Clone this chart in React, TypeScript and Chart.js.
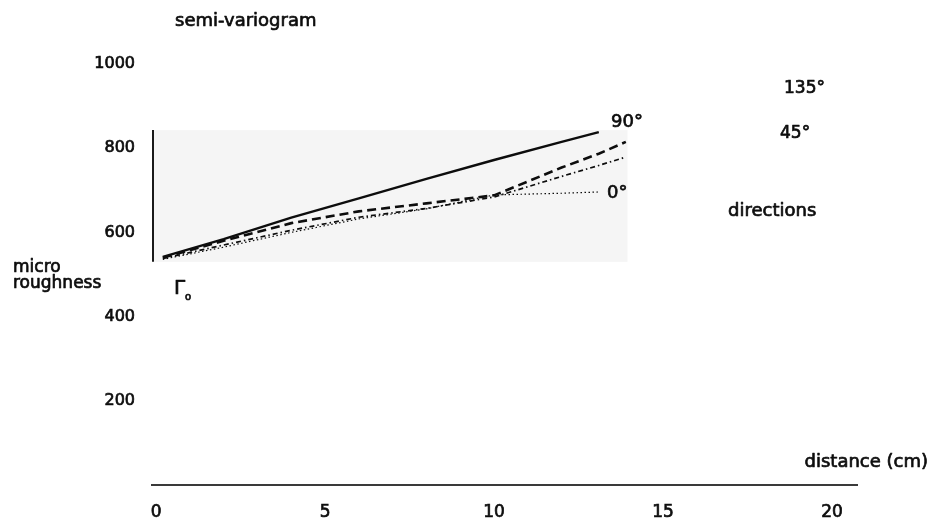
import React, { useEffect, useRef } from "react";
import { Chart, registerables } from "chart.js";

Chart.register(...registerables);

// distance (cm) sample positions shared by all directions
const distances = [0.2, 2, 4, 6, 8, 10, 12, 13.1, 13.9];
// semi-variogram values per direction
const dir90 = [542, 584, 635, 681, 727, 772, 815, 838, null];
const dir45 = [540, 580, 622, 650, 669, 688, 754, 787, 815];
const dir135 = [538, 570, 605, 636, 657, 684, 733, 759, 779];
const dir0 = [536, 565, 600, 632, 656, 689, 693, 696, null];

const xTicks = [0, 5, 10, 15, 20];
const yTicks = [200, 400, 600, 800, 1000];
// shaded region behind the curves (data units)
const boxX = [-0.12, 13.95];
const boxY = [530, 843];

const FONT = "'DejaVu Sans', sans-serif";
const INK = "#0d0d0d";

const toPoints = (vals: (number | null)[]) =>
  distances.map((x, i) => ({ x, y: vals[i] }));

const decor = {
  id: "decor",
  beforeDatasetsDraw(chart: any) {
    const { ctx, scales } = chart;
    const xs = scales.x;
    const ys = scales.y;
    const l = xs.getPixelForValue(boxX[0]);
    const r = xs.getPixelForValue(boxX[1]);
    const t = ys.getPixelForValue(boxY[1]);
    const b = ys.getPixelForValue(boxY[0]);
    ctx.save();
    ctx.fillStyle = "#f5f5f5";
    ctx.fillRect(l, t, r - l, b - t);
    ctx.strokeStyle = "#1a1a1a";
    ctx.lineWidth = 2;
    ctx.beginPath();
    ctx.moveTo(l + 1, t);
    ctx.lineTo(l + 1, b);
    ctx.stroke();
    ctx.restore();
  },
  afterDraw(chart: any) {
    const { ctx } = chart;
    ctx.save();
    ctx.fillStyle = INK;
    ctx.strokeStyle = INK;
    ctx.lineWidth = 0.7;
    ctx.lineJoin = "round";
    ctx.textBaseline = "alphabetic";
    const txt = (s: string, x: number, y: number, size = 18, align: CanvasTextAlign = "left") => {
      ctx.font = `${size}px ${FONT}`;
      ctx.textAlign = align;
      ctx.fillText(s, x, y);
      ctx.strokeText(s, x, y);
    };
    txt("semi-variogram", 175, 26, 18);
    txt("micro", 13, 272, 17);
    txt("roughness", 13, 288, 17);
    txt("Γ", 174, 294, 20);
    txt("o", 185, 300, 10);
    txt("90°", 611, 127, 18);
    txt("0°", 607, 198, 18);
    txt("135°", 784, 93, 17);
    txt("45°", 780, 138, 17);
    txt("directions", 728, 216, 18);
    txt("distance (cm)", 928, 467, 18, "right");
    ctx.restore();
  },
};

export default function App() {
  const ref = useRef<HTMLCanvasElement | null>(null);
  useEffect(() => {
    if (!ref.current) return;
    const common = { pointRadius: 0, borderColor: INK, fill: false, tension: 0, spanGaps: false };
    const chart = new Chart(ref.current, {
      type: "line",
      data: {
        datasets: [
          { ...common, label: "90°", data: toPoints(dir90), borderWidth: 2.4 },
          { ...common, label: "45°", data: toPoints(dir45), borderWidth: 2.6, borderDash: [9, 5] },
          { ...common, label: "135°", data: toPoints(dir135), borderWidth: 1.7, borderDash: [5, 3, 1.5, 3] },
          { ...common, label: "0°", data: toPoints(dir0), borderWidth: 1.2, borderDash: [1.5, 2.5] },
        ] as any,
      },
      options: {
        responsive: false,
        animation: false,
        devicePixelRatio: 1,
        layout: { padding: { top: 64, right: 75, bottom: 0, left: 0 } },
        plugins: { legend: { display: false }, tooltip: { enabled: false }, title: { display: false } },
        scales: {
          x: {
            type: "linear",
            min: -0.12,
            max: 20.74,
            afterBuildTicks: (s: any) => { s.ticks = xTicks.map((v) => ({ value: v })); },
            afterFit: (s: any) => { s.height = 42; },
            grid: { display: false, drawTicks: false },
            border: { display: true, color: "#3a3a3a", width: 2 },
            ticks: {
              color: INK, font: { family: FONT, size: 17 }, padding: 17, maxRotation: 0, autoSkip: false,
              textStrokeColor: INK, textStrokeWidth: 0.7,
              callback: (v: any) => String(v),
            },
          },
          y: {
            type: "linear",
            min: 0,
            max: 1000,
            afterBuildTicks: (s: any) => { s.ticks = yTicks.map((v) => ({ value: v })); },
            afterFit: (s: any) => { s.width = 152; },
            grid: { display: false, drawTicks: false },
            border: { display: false },
            ticks: {
              color: INK, font: { family: FONT, size: 16 }, padding: 17,
              textStrokeColor: INK, textStrokeWidth: 0.7,
              callback: (v: any) => String(v),
            },
          },
        },
      } as any,
      plugins: [decor],
    });
    return () => chart.destroy();
  }, []);
  return (
    <div style={{ position: "fixed", left: 0, top: 0, width: 932, height: 527, background: "#fff" }}>
      <canvas ref={ref} width={932} height={527} style={{ width: 932, height: 527, display: "block" }} />
    </div>
  );
}
